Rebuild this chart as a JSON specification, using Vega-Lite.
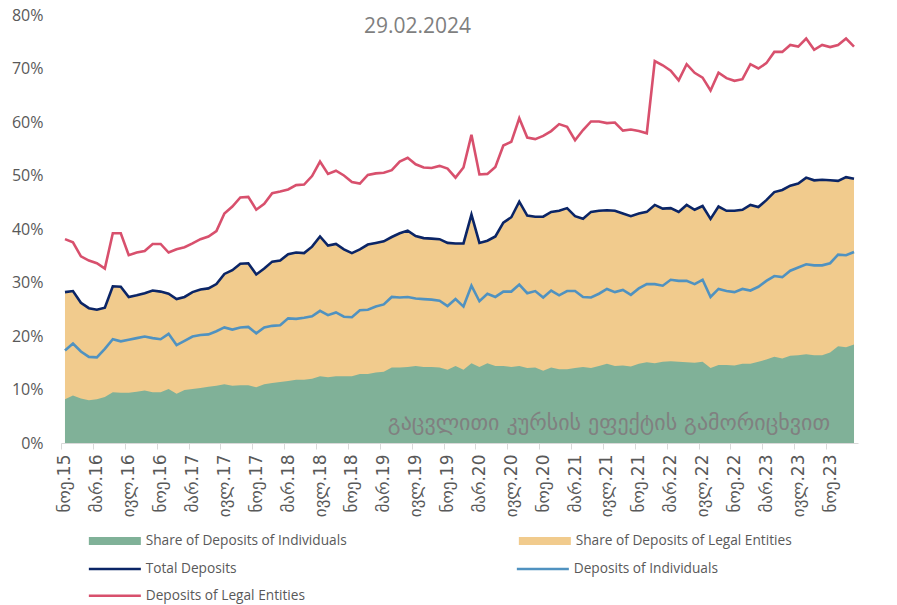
{
  "$schema": "https://vega.github.io/schema/vega-lite/v6.json",
  "width": 797,
  "height": 428,
  "autosize": {"type": "none"},
  "padding": {"left": 61, "top": 15, "right": 39, "bottom": 162},
  "background": "white",
  "config": {"view": {"stroke": null}, "font": "Open Sans"},
  "title": {"text": "29.02.2024", "fontSize": 21, "font": "Open Sans", "fontWeight": "normal", "color": "#7F7F7F", "anchor": "middle", "dx": -42, "offset": 0, "dy": 30},
  "data": {"values": [
    {"m":"ნოე.15","ind":8.2,"total":28.2,"di":17.3,"dl":38.1},
    {"m":"დეკ.15","ind":8.9,"total":28.4,"di":18.6,"dl":37.5},
    {"m":"იან.16","ind":8.3,"total":26.2,"di":17.1,"dl":34.9},
    {"m":"თებ.16","ind":8.0,"total":25.2,"di":16.1,"dl":34.1},
    {"m":"მარ.16","ind":8.2,"total":24.9,"di":16.0,"dl":33.6},
    {"m":"აპრ.16","ind":8.6,"total":25.3,"di":17.6,"dl":32.6},
    {"m":"მაი.16","ind":9.5,"total":29.3,"di":19.4,"dl":39.2},
    {"m":"ივნ.16","ind":9.4,"total":29.2,"di":19.0,"dl":39.2},
    {"m":"ივლ.16","ind":9.4,"total":27.3,"di":19.3,"dl":35.1},
    {"m":"აგვ.16","ind":9.6,"total":27.6,"di":19.6,"dl":35.6},
    {"m":"სექ.16","ind":9.8,"total":28.0,"di":19.9,"dl":35.9},
    {"m":"ოქტ.16","ind":9.5,"total":28.5,"di":19.6,"dl":37.2},
    {"m":"ნოე.16","ind":9.5,"total":28.3,"di":19.4,"dl":37.2},
    {"m":"დეკ.16","ind":10.1,"total":27.9,"di":20.4,"dl":35.6},
    {"m":"იან.17","ind":9.2,"total":26.9,"di":18.3,"dl":36.2},
    {"m":"თებ.17","ind":9.9,"total":27.3,"di":19.1,"dl":36.6},
    {"m":"მარ.17","ind":10.1,"total":28.2,"di":19.9,"dl":37.3},
    {"m":"აპრ.17","ind":10.3,"total":28.7,"di":20.2,"dl":38.1},
    {"m":"მაი.17","ind":10.5,"total":28.9,"di":20.3,"dl":38.6},
    {"m":"ივნ.17","ind":10.7,"total":29.7,"di":20.9,"dl":39.6},
    {"m":"ივლ.17","ind":11.0,"total":31.6,"di":21.6,"dl":42.9},
    {"m":"აგვ.17","ind":10.7,"total":32.3,"di":21.2,"dl":44.2},
    {"m":"სექ.17","ind":10.8,"total":33.5,"di":21.6,"dl":45.9},
    {"m":"ოქტ.17","ind":10.8,"total":33.6,"di":21.7,"dl":46.0},
    {"m":"ნოე.17","ind":10.4,"total":31.5,"di":20.5,"dl":43.6},
    {"m":"დეკ.17","ind":11.0,"total":32.6,"di":21.6,"dl":44.7},
    {"m":"იან.18","ind":11.2,"total":33.9,"di":21.9,"dl":46.7},
    {"m":"თებ.18","ind":11.4,"total":34.1,"di":22.0,"dl":47.0},
    {"m":"მარ.18","ind":11.6,"total":35.3,"di":23.3,"dl":47.4},
    {"m":"აპრ.18","ind":11.8,"total":35.6,"di":23.2,"dl":48.2},
    {"m":"მაი.18","ind":11.8,"total":35.5,"di":23.4,"dl":48.3},
    {"m":"ივნ.18","ind":12.0,"total":36.7,"di":23.7,"dl":49.9},
    {"m":"ივლ.18","ind":12.5,"total":38.6,"di":24.7,"dl":52.6},
    {"m":"აგვ.18","ind":12.3,"total":36.9,"di":23.9,"dl":50.3},
    {"m":"სექ.18","ind":12.5,"total":37.2,"di":24.4,"dl":50.9},
    {"m":"ოქტ.18","ind":12.5,"total":36.2,"di":23.6,"dl":50.0},
    {"m":"ნოე.18","ind":12.5,"total":35.5,"di":23.5,"dl":48.8},
    {"m":"დეკ.18","ind":12.9,"total":36.2,"di":24.8,"dl":48.5},
    {"m":"იან.19","ind":12.9,"total":37.1,"di":24.9,"dl":50.1},
    {"m":"თებ.19","ind":13.2,"total":37.4,"di":25.5,"dl":50.4},
    {"m":"მარ.19","ind":13.3,"total":37.7,"di":25.9,"dl":50.5},
    {"m":"აპრ.19","ind":14.1,"total":38.5,"di":27.3,"dl":51.0},
    {"m":"მაი.19","ind":14.1,"total":39.2,"di":27.2,"dl":52.6},
    {"m":"ივნ.19","ind":14.2,"total":39.7,"di":27.3,"dl":53.3},
    {"m":"ივლ.19","ind":14.4,"total":38.7,"di":27.0,"dl":52.1},
    {"m":"აგვ.19","ind":14.2,"total":38.3,"di":26.9,"dl":51.5},
    {"m":"სექ.19","ind":14.2,"total":38.2,"di":26.8,"dl":51.4},
    {"m":"ოქტ.19","ind":14.1,"total":38.1,"di":26.6,"dl":51.8},
    {"m":"ნოე.19","ind":13.7,"total":37.4,"di":25.6,"dl":51.3},
    {"m":"დეკ.19","ind":14.4,"total":37.3,"di":26.9,"dl":49.6},
    {"m":"იან.20","ind":13.7,"total":37.3,"di":25.5,"dl":51.5},
    {"m":"თებ.20","ind":14.9,"total":42.7,"di":29.4,"dl":57.6},
    {"m":"მარ.20","ind":14.2,"total":37.4,"di":26.5,"dl":50.2},
    {"m":"აპრ.20","ind":14.9,"total":37.8,"di":27.9,"dl":50.3},
    {"m":"მაი.20","ind":14.4,"total":38.6,"di":27.3,"dl":51.6},
    {"m":"ივნ.20","ind":14.4,"total":41.2,"di":28.3,"dl":55.6},
    {"m":"ივლ.20","ind":14.2,"total":42.2,"di":28.3,"dl":56.3},
    {"m":"აგვ.20","ind":14.4,"total":45.1,"di":29.6,"dl":60.7},
    {"m":"სექ.20","ind":14.0,"total":42.5,"di":28.0,"dl":57.1},
    {"m":"ოქტ.20","ind":14.1,"total":42.3,"di":28.4,"dl":56.8},
    {"m":"ნოე.20","ind":13.5,"total":42.3,"di":27.2,"dl":57.4},
    {"m":"დეკ.20","ind":14.1,"total":43.2,"di":28.5,"dl":58.3},
    {"m":"იან.21","ind":13.8,"total":43.4,"di":27.6,"dl":59.6},
    {"m":"თებ.21","ind":13.8,"total":43.9,"di":28.4,"dl":59.1},
    {"m":"მარ.21","ind":14.0,"total":42.4,"di":28.4,"dl":56.6},
    {"m":"აპრ.21","ind":14.2,"total":41.9,"di":27.3,"dl":58.5},
    {"m":"მაი.21","ind":14.0,"total":43.2,"di":27.2,"dl":60.1},
    {"m":"ივნ.21","ind":14.4,"total":43.4,"di":27.9,"dl":60.1},
    {"m":"ივლ.21","ind":14.8,"total":43.5,"di":28.8,"dl":59.8},
    {"m":"აგვ.21","ind":14.4,"total":43.4,"di":28.2,"dl":59.9},
    {"m":"სექ.21","ind":14.5,"total":42.9,"di":28.6,"dl":58.4},
    {"m":"ოქტ.21","ind":14.3,"total":42.4,"di":27.7,"dl":58.6},
    {"m":"ნოე.21","ind":14.8,"total":42.9,"di":28.9,"dl":58.3},
    {"m":"დეკ.21","ind":15.1,"total":43.2,"di":29.7,"dl":57.9},
    {"m":"იან.22","ind":14.9,"total":44.5,"di":29.7,"dl":71.4},
    {"m":"თებ.22","ind":15.2,"total":43.8,"di":29.4,"dl":70.6},
    {"m":"მარ.22","ind":15.3,"total":43.9,"di":30.5,"dl":69.6},
    {"m":"აპრ.22","ind":15.2,"total":43.2,"di":30.3,"dl":67.8},
    {"m":"მაი.22","ind":15.1,"total":44.5,"di":30.3,"dl":70.8},
    {"m":"ივნ.22","ind":15.0,"total":43.6,"di":29.7,"dl":69.2},
    {"m":"ივლ.22","ind":15.2,"total":44.3,"di":30.5,"dl":68.3},
    {"m":"აგვ.22","ind":14.0,"total":41.9,"di":27.3,"dl":65.9},
    {"m":"სექ.22","ind":14.6,"total":44.2,"di":28.8,"dl":69.2},
    {"m":"ოქტ.22","ind":14.6,"total":43.4,"di":28.4,"dl":68.2},
    {"m":"ნოე.22","ind":14.5,"total":43.4,"di":28.2,"dl":67.7},
    {"m":"დეკ.22","ind":14.8,"total":43.6,"di":28.8,"dl":68.0},
    {"m":"იან.23","ind":14.8,"total":44.5,"di":28.5,"dl":70.8},
    {"m":"თებ.23","ind":15.2,"total":44.1,"di":29.2,"dl":70.0},
    {"m":"მარ.23","ind":15.6,"total":45.4,"di":30.3,"dl":71.0},
    {"m":"აპრ.23","ind":16.1,"total":46.9,"di":31.2,"dl":73.1},
    {"m":"მაი.23","ind":15.8,"total":47.3,"di":31.0,"dl":73.1},
    {"m":"ივნ.23","ind":16.3,"total":48.1,"di":32.2,"dl":74.4},
    {"m":"ივლ.23","ind":16.4,"total":48.5,"di":32.8,"dl":74.1},
    {"m":"აგვ.23","ind":16.6,"total":49.6,"di":33.4,"dl":75.6},
    {"m":"სექ.23","ind":16.4,"total":49.1,"di":33.2,"dl":73.5},
    {"m":"ოქტ.23","ind":16.4,"total":49.2,"di":33.2,"dl":74.4},
    {"m":"ნოე.23","ind":16.9,"total":49.1,"di":33.6,"dl":74.0},
    {"m":"დეკ.23","ind":18.1,"total":49.0,"di":35.2,"dl":74.4},
    {"m":"იან.24","ind":17.9,"total":49.7,"di":35.1,"dl":75.6},
    {"m":"თებ.24","ind":18.4,"total":49.4,"di":35.7,"dl":74.1}
  ]},
  "encoding": {
    "x": {
      "field": "m", "type": "nominal", "sort": null,
      "scale": {"type": "point", "padding": 0.5},
      "axis": {
        "title": null,
        "values": ["ნოე.15","მარ.16","ივლ.16","ნოე.16","მარ.17","ივლ.17","ნოე.17","მარ.18","ივლ.18","ნოე.18","მარ.19","ივლ.19","ნოე.19","მარ.20","ივლ.20","ნოე.20","მარ.21","ივლ.21","ნოე.21","მარ.22","ივლ.22","ნოე.22","მარ.23","ივლ.23","ნოე.23"],
        "labelAngle": -90, "labelFontSize": 17, "labelFont": "DejaVu Sans", "labelColor": "#595959",
        "tickColor": "#D9D9D9", "domainColor": "#D9D9D9", "tickSize": 6, "labelPadding": 5,
        "tickOffset": -4, "labelOffset": 4, "grid": false, "labelOverlap": false
      }
    }
  },
  "layer": [
    {
      "mark": {"type": "area", "opacity": 1},
      "encoding": {
        "y": {"field": "total", "type": "quantitative", "scale": {"domain": [0, 80]},
          "axis": {"title": null, "values": [0,10,20,30,40,50,60,70,80], "labelExpr": "datum.value + '%'", "grid": false, "domain": false, "ticks": false, "labelFontSize": 16, "labelColor": "#595959", "labelPadding": 18, "labelFont": "Open Sans"}},
        "fill": {"datum": "Share of Deposits of Legal Entities", "type": "nominal",
          "scale": {"domain": ["Share of Deposits of Individuals", "Share of Deposits of Legal Entities"], "range": ["#80B198", "#F1CB8D"]},
          "legend": {"orient": "none", "legendX": 47, "legendY": 519, "direction": "horizontal", "columns": 2, "columnPadding": 171, "title": null,
            "symbolType": "M-5.2,-0.8L5.2,-0.8L5.2,0.8L-5.2,0.8Z", "symbolSize": 100, "symbolStrokeWidth": 0, "symbolOpacity": 1,
            "labelOffset": 24, "labelFontSize": 13.7, "labelColor": "#595959", "labelFont": "Open Sans", "labelLimit": 400}}
      }
    },
    {
      "mark": {"type": "area", "opacity": 1},
      "encoding": {
        "y": {"field": "ind", "type": "quantitative"},
        "fill": {"datum": "Share of Deposits of Individuals", "type": "nominal"}
      }
    },
    {
      "mark": {"type": "line", "strokeWidth": 2.6},
      "encoding": {
        "y": {"field": "total", "type": "quantitative"},
        "stroke": {"datum": "Total Deposits", "type": "nominal",
          "scale": {"domain": ["Total Deposits", "Deposits of Individuals"], "range": ["#0B2566", "#5092C0"]},
          "legend": {"orient": "none", "legendX": 47, "legendY": 547, "direction": "horizontal", "columns": 2, "columnPadding": 274, "title": null,
            "symbolType": "M-5.2,0L5.2,0", "symbolSize": 100, "symbolStrokeWidth": 2.5,
            "labelOffset": 24, "labelFontSize": 13.7, "labelColor": "#595959", "labelFont": "Open Sans", "labelLimit": 400}}
      }
    },
    {
      "mark": {"type": "line", "strokeWidth": 2.6},
      "encoding": {
        "y": {"field": "di", "type": "quantitative"},
        "stroke": {"datum": "Deposits of Individuals", "type": "nominal"}
      }
    },
    {
      "mark": {"type": "line", "strokeWidth": 2.6},
      "encoding": {
        "y": {"field": "dl", "type": "quantitative"},
        "color": {"datum": "Deposits of Legal Entities", "type": "nominal",
          "scale": {"domain": ["Deposits of Legal Entities"], "range": ["#D8506D"]},
          "legend": {"orient": "none", "legendX": 47, "legendY": 574, "title": null,
            "symbolType": "M-5.2,0L5.2,0", "symbolSize": 100, "symbolStrokeWidth": 2.5,
            "labelOffset": 24, "labelFontSize": 13.7, "labelColor": "#595959", "labelFont": "Open Sans", "labelLimit": 400}}
      }
    },
    {
      "data": {"values": [{"note": "გაცვლითი კურსის ეფექტის გამორიცხვით"}]},
      "mark": {"type": "text", "align": "right", "baseline": "middle", "fontSize": 22, "font": "DejaVu Sans", "color": "#808080"},
      "encoding": {
        "x": {"datum": "ნოე.23", "type": "nominal"},
        "y": {"datum": 3.7, "type": "quantitative"},
        "text": {"field": "note"}
      }
    }
  ]
}
